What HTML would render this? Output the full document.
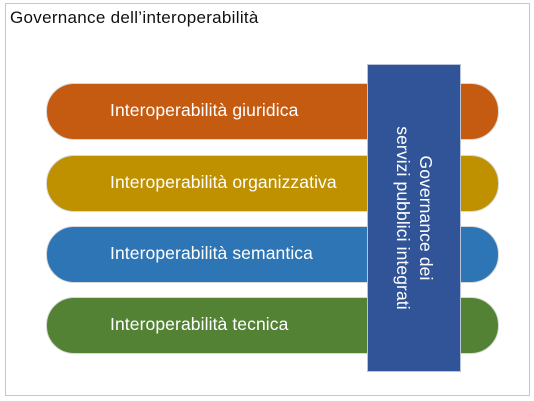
<!DOCTYPE html>
<html><head><meta charset="utf-8"><style>
body{margin:0;width:534px;height:401px;background:#fff;position:relative;overflow:hidden;font-family:"Liberation Sans","DejaVu Sans",sans-serif;}
.frame{position:absolute;left:5px;top:3px;width:525px;height:393px;border:1.5px solid #c8c8c8;box-sizing:border-box;}
.title{position:absolute;left:10px;top:8px;font-size:17px;color:#111;letter-spacing:0.3px;}
.pill{position:absolute;left:46px;width:453px;height:57px;border-radius:28px;border:1px solid #d9d9d9;box-sizing:border-box;color:#fff;font-size:17.5px;line-height:53px;padding-left:63px;letter-spacing:0.1px;}
.box{position:absolute;left:367px;top:64px;width:94px;height:308px;background:#305497;border:1px solid #b8c4d8;box-sizing:border-box;}
.vt{position:absolute;left:414px;top:218px;width:300px;transform:translate(-50%,-50%) rotate(90deg);color:#fff;font-size:17.5px;line-height:23px;text-align:center;letter-spacing:0.1px;}
</style></head><body>
<div class="frame"></div>
<div class="title">Governance dell’interoperabilità</div>
<div class="pill" style="top:83px;background:#c55a11;">Interoperabilità giuridica</div>
<div class="pill" style="top:155px;background:#bf9000;">Interoperabilità organizzativa</div>
<div class="pill" style="top:226px;background:#2e75b6;">Interoperabilità semantica</div>
<div class="pill" style="top:297px;background:#548235;">Interoperabilità tecnica</div>
<div class="box"></div>
<div class="vt">Governance dei<br>servizi pubblici integrati</div>
</body></html>
